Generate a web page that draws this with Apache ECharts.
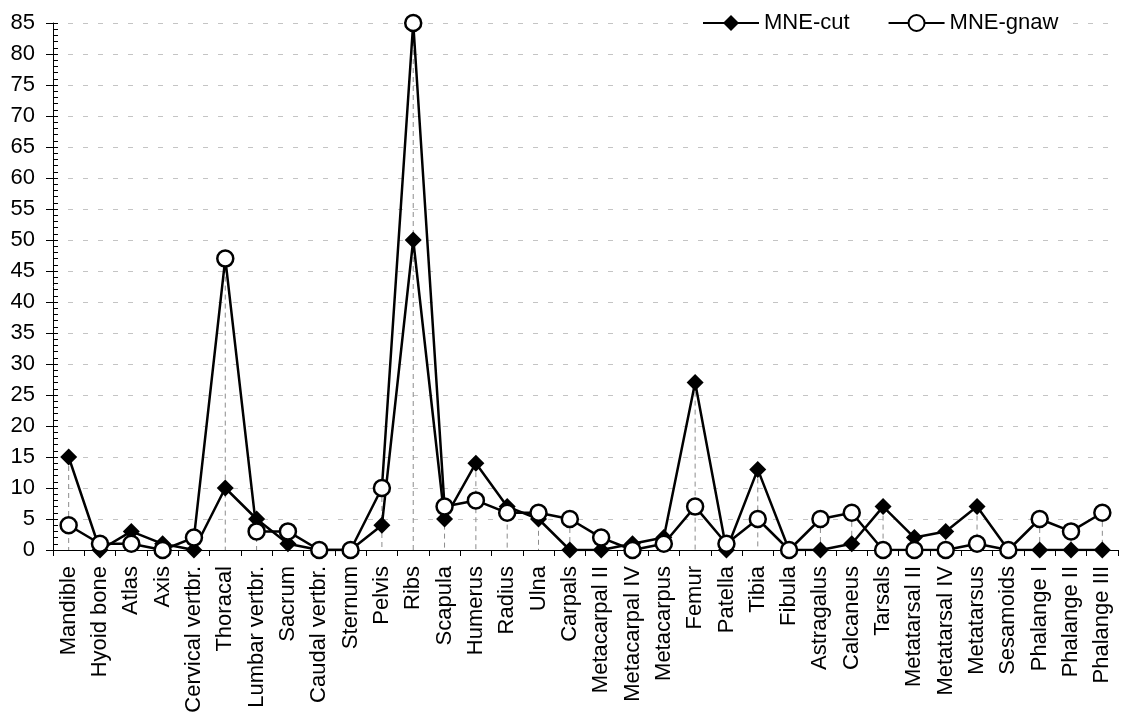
<!DOCTYPE html>
<html>
<head>
<meta charset="utf-8">
<script src="https://cdn.jsdelivr.net/npm/echarts@6/dist/echarts.min.js"></script>
<style>
  html, body { margin: 0; padding: 0; background: #fff; }
  #main { width: 1122px; height: 722px; }
</style>
</head>
<body>
<div id="main"></div>
<script>
// skeletal elements
var categories = ['Mandible', 'Hyoid bone', 'Atlas', 'Axis', 'Cervical vertbr.', 'Thoracal',
    'Lumbar vertbr.', 'Sacrum', 'Caudal vertbr.', 'Sternum', 'Pelvis', 'Ribs', 'Scapula',
    'Humerus', 'Radius', 'Ulna', 'Carpals', 'Metacarpal II', 'Metacarpal IV', 'Metacarpus',
    'Femur', 'Patella', 'Tibia', 'Fibula', 'Astragalus', 'Calcaneus', 'Tarsals',
    'Metatarsal II', 'Metatarsal IV', 'Metatarsus', 'Sesamoids', 'Phalange I',
    'Phalange II', 'Phalange III'];

var mneCut = [15, 0, 3, 1, 0, 10, 5, 1, 0, 0, 4, 50, 5, 14, 7, 5, 0, 0, 1, 2,
    27, 0, 13, 0, 0, 1, 7, 2, 3, 7, 0, 0, 0, 0];

var mneGnaw = [4, 1, 1, 0, 2, 47, 3, 3, 0, 0, 10, 85, 7, 8, 6, 6, 5, 2, 0, 1,
    7, 1, 5, 0, 5, 6, 0, 0, 0, 1, 0, 5, 3, 6];

var yTicks = [0, 5, 10, 15, 20, 25, 30, 35, 40, 45, 50, 55, 60, 65, 70, 75, 80, 85];

var FONT = 'Liberation Sans';

// drop lines go from the higher of the two values down to the axis
var dropData = categories.map(function (c, i) {
    return [i, Math.max(mneCut[i], mneGnaw[i])];
});

var chart = echarts.init(document.getElementById('main'), null, { renderer: 'canvas' });

var option = {
    animation: false,
    backgroundColor: '#fff',
    textStyle: { fontFamily: FONT, color: '#000' },
    grid: { left: 53, right: 4, top: 23, bottom: 172, containLabel: false },
    legend: {
        data: ['MNE-cut', 'MNE-gnaw'],
        left: 697,
        top: 9,
        padding: [3, 5, 3, 5],
        backgroundColor: '#fff',
        itemWidth: 56,
        itemHeight: 20,
        itemGap: 38,
        textStyle: { fontFamily: FONT, fontSize: 22, color: '#000' }
    },
    xAxis: {
        type: 'category',
        data: categories,
        boundaryGap: true,
        axisLine: { lineStyle: { color: '#000', width: 1 } },
        axisTick: { show: true, length: 6, lineStyle: { color: '#000' } },
        axisLabel: {
            rotate: 90,
            interval: 0,
            margin: 16,
            fontFamily: FONT,
            fontSize: 22,
            color: '#000'
        },
        splitLine: { show: false }
    },
    yAxis: [{
        type: 'value',
        min: yTicks[0],
        max: yTicks[yTicks.length - 1],
        interval: 5,
        axisLine: { show: true, lineStyle: { color: '#000', width: 1 } },
        axisTick: { show: true, length: 7, lineStyle: { color: '#000' } },
        axisLabel: { margin: 18, fontFamily: FONT, fontSize: 22, color: '#000' },
        splitLine: { show: true, lineStyle: { color: '#c4c4c4', width: 1, type: [5, 10] } }
    }, {
        // inner ticks + minor ticks
        type: 'value',
        position: 'left',
        min: yTicks[0],
        max: yTicks[yTicks.length - 1],
        interval: 5,
        axisLine: { show: false },
        axisLabel: { show: false },
        splitLine: { show: false },
        axisTick: { show: true, inside: true, length: 5, lineStyle: { color: '#000' } },
        minorTick: { show: true, splitNumber: 5, length: 5, lineStyle: { color: '#000' } }
    }],
    series: [{
        name: 'drop',
        type: 'custom',
        z: 1,
        silent: true,
        data: dropData,
        renderItem: function (params, api) {
            var top = api.coord([api.value(0), api.value(1)]);
            var base = api.coord([api.value(0), 0]);
            return {
                type: 'line',
                shape: { x1: top[0], y1: top[1], x2: base[0], y2: base[1] },
                style: { stroke: '#8c8c8c', lineWidth: 1, lineDash: [5, 4] }
            };
        }
    }, {
        name: 'MNE-cut',
        type: 'line',
        z: 3,
        data: mneCut,
        symbol: 'diamond',
        symbolSize: 17,
        lineStyle: { color: '#000', width: 2.5 },
        itemStyle: { color: '#000', borderColor: '#000', borderWidth: 0 },
        emphasis: { disabled: true }
    }, {
        name: 'MNE-gnaw',
        type: 'line',
        z: 4,
        data: mneGnaw,
        symbol: 'circle',
        symbolSize: 16,
        lineStyle: { color: '#000', width: 2.5 },
        itemStyle: { color: '#fff', borderColor: '#000', borderWidth: 2.5 },
        emphasis: { disabled: true }
    }]
};

chart.setOption(option);
</script>
</body>
</html>
